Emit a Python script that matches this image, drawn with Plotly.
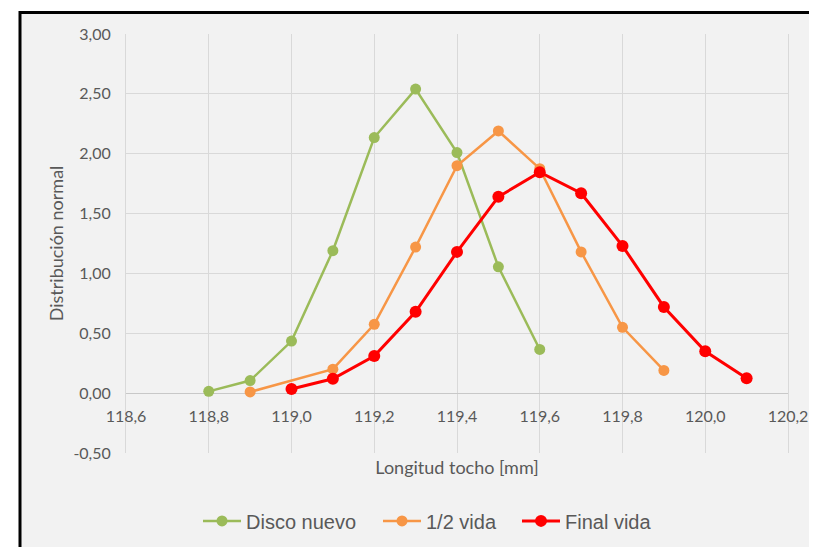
import plotly.graph_objects as go

x_disco = [118.8, 118.9, 119.0, 119.1, 119.2, 119.3, 119.4, 119.5, 119.6]
y_disco = [0.015, 0.105, 0.435, 1.19, 2.135, 2.54, 2.01, 1.055, 0.365]

x_media = [118.9, 119.1, 119.2, 119.3, 119.4, 119.5, 119.6, 119.7, 119.8, 119.9]
y_media = [0.01, 0.20, 0.575, 1.22, 1.90, 2.19, 1.875, 1.18, 0.55, 0.19]

x_final = [119.0, 119.1, 119.2, 119.3, 119.4, 119.5, 119.6, 119.7, 119.8, 119.9, 120.0, 120.1]
y_final = [0.035, 0.12, 0.31, 0.68, 1.18, 1.64, 1.845, 1.67, 1.23, 0.72, 0.35, 0.125]

x_ticks = [118.6, 118.8, 119.0, 119.2, 119.4, 119.6, 119.8, 120.0, 120.2]
y_ticks = [-0.5, 0.0, 0.5, 1.0, 1.5, 2.0, 2.5, 3.0]
y_tick_labels = ["-0,50", "0,00", "0,50", "1,00", "1,50", "2,00", "2,50", "3,00"]

series = [
    ("Disco nuevo", x_disco, y_disco, "#9bbb59", 2.5, 11, 127),
    ("1/2 vida", x_media, y_media, "#f79646", 2.5, 11, 86),
    ("Final vida", x_final, y_final, "#ff0000", 3, 12, 106),
]

fig = go.Figure()
for name, xs, ys, col, lw, ms, legw in series:
    fig.add_trace(go.Scatter(
        x=xs, y=ys, name=name, mode="lines+markers",
        line=dict(color=col, width=lw),
        marker=dict(color=col, size=ms, symbol="circle"),
        legendwidth=legw,
    ))

tick_font = dict(family="Lato, Calibri, sans-serif", size=16, color="#595959")
title_font = dict(family="Lato, Calibri, sans-serif", size=18, color="#595959")
grid = "#d9d9d9"
ymin, ymax = -0.5, 3.0

fig.update_layout(
    width=817, height=547,
    margin=dict(l=118, r=37, t=26, b=102),
    paper_bgcolor="white",
    plot_bgcolor="#f2f2f2",
    separators=",.",
    showlegend=True,
    legend=dict(
        orientation="h", x=(198 - 126) / 662, xanchor="left", y=-0.162, yanchor="middle",
        font=dict(family="Liberation Sans, Arial, sans-serif", size=20, color="#595959"),
        bgcolor="rgba(0,0,0,0)", itemwidth=38,
    ),
    xaxis=dict(
        range=[118.6, 120.2], tickvals=x_ticks, tickformat=".1f",
        showgrid=True, gridcolor=grid, gridwidth=1, zeroline=False,
        anchor="free", position=(0 - ymin) / (ymax - ymin),
        showline=False, ticks="", ticklabelstandoff=12,
        tickfont=tick_font, automargin=False,
        title=dict(text="Longitud tocho [mm]", standoff=37, font=title_font),
    ),
    yaxis=dict(
        range=[ymin, ymax], tickvals=y_ticks, ticktext=y_tick_labels,
        showgrid=True, gridcolor=grid, gridwidth=1,
        zeroline=True, zerolinecolor="#c8c8c8", zerolinewidth=1,
        showline=True, linecolor=grid, mirror=True,
        ticks="", ticklabelstandoff=11,
        tickfont=tick_font, automargin=False,
        title=dict(text="Distribución normal", standoff=5, font=title_font),
    ),
    shapes=[
        dict(type="rect", xref="paper", yref="paper",
             x0=(20 - 126) / 662, x1=(840 - 126) / 662,
             y0=(453 - 570) / 419, y1=(453 - 12.5) / 419,
             line=dict(color="black", width=3), fillcolor="#f2f2f2", layer="below"),
    ],
)

fig.write_html("out.html")
